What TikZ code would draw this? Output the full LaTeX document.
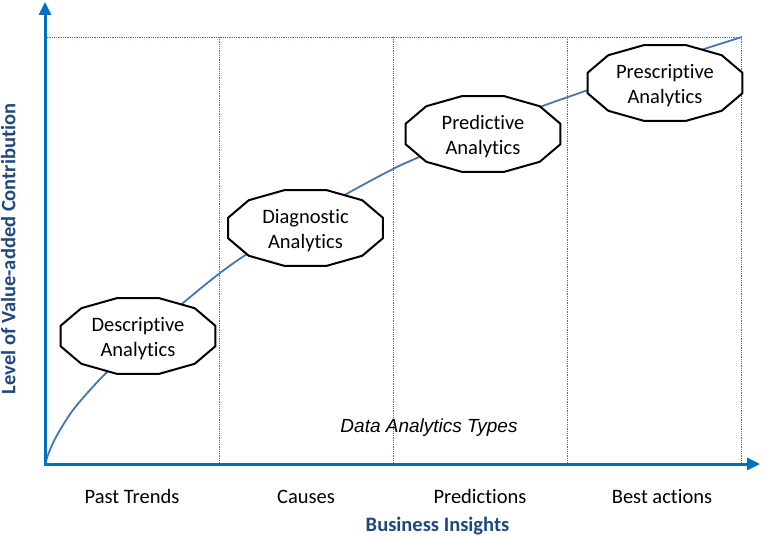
\documentclass[tikz,border=0pt]{standalone}
\usepackage{fontspec}
\setmainfont{Carlito}[Ligatures=NoCommon]
\newfontfamily\arialfont{Liberation Sans}
\usetikzlibrary{arrows.meta,calc}
\definecolor{axisblue}{RGB}{0,112,192}
\definecolor{curveblue}{RGB}{70,118,176}
\definecolor{gridblue}{RGB}{79,109,160}
\definecolor{titleblue}{RGB}{31,73,125}
\tikzset{
  axisline/.style={draw=axisblue,line width=3pt,-{Triangle[length=13pt,width=12pt]}},
  gridline/.style={draw=gridblue,line width=0.8pt,densely dotted},
  curveline/.style={draw=curveblue,line width=1.8pt},
  polytext/.style={font=\fontsize{20.5}{25}\selectfont,align=center,inner sep=0pt,yshift=-3pt},
  polyline/.style={draw=black,line width=2pt,fill=white,line join=miter},
  catlabel/.style={font=\fontsize{20.5}{25}\selectfont,anchor=base},
  axistitle/.style={font=\fontsize{20.5}{25}\selectfont\bfseries,text=titleblue,anchor=base},
  typelabel/.style={font=\arialfont\itshape\fontsize{19}{23}\selectfont,anchor=base},
}
\newcommand\dodecagon[1]{%
  \path[polyline,shift={(#1)}] (15:80.2pt and 39.3pt) -- (45:80.2pt and 39.3pt)
    -- (75:80.2pt and 39.3pt) -- (105:80.2pt and 39.3pt) -- (135:80.2pt and 39.3pt)
    -- (165:80.2pt and 39.3pt) -- (195:80.2pt and 39.3pt) -- (225:80.2pt and 39.3pt)
    -- (255:80.2pt and 39.3pt) -- (285:80.2pt and 39.3pt) -- (315:80.2pt and 39.3pt)
    -- (345:80.2pt and 39.3pt) -- cycle;}
\begin{document}
\begin{tikzpicture}[x=1pt,y=-1pt]
\useasboundingbox (0,0) rectangle (768,537);
% grid
\coordinate (O) at (45,464);
\coordinate (TL) at (45,37);
\coordinate (TR) at (741,37);
\coordinate (v1t) at (219,37); \coordinate (v1b) at (219,464);
\coordinate (v2t) at (393,37); \coordinate (v2b) at (393,464);
\coordinate (v3t) at (567,37); \coordinate (v3b) at (567,464);
\coordinate (v4t) at (741,37); \coordinate (v4b) at (741,464);
\draw[gridline] (TL) -- (TR);
\draw[gridline] (v1t) -- (v1b);
\draw[gridline] (v2t) -- (v2b);
\draw[gridline] (v3t) -- (v3b);
\draw[gridline] (v4t) -- (v4b);
% curve
\draw[curveline] plot[smooth,tension=0.55] coordinates {(45,464) (48,455) (53,443) (60,430) (73,410) (90,390) (107,372) (140,340) (183,303) (220,273) (250,252) (300,221) (350,192) (393,169) (417,158) (480,131) (540,107) (588,90) (645,69) (698,51) (742,37)};
% axes
\coordinate (ybase) at (45,465.5);
\coordinate (ytip) at (45,2);
\coordinate (xbase) at (43.5,464);
\coordinate (xtip) at (760,464);
\draw[axisline] (ybase) -- (ytip);
\draw[axisline] (xbase) -- (xtip);
% shapes
\coordinate (descC) at (138,336);
\coordinate (diagC) at (305.5,228);
\coordinate (predC) at (483,134);
\coordinate (presC) at (665,83);
\dodecagon{descC}
\dodecagon{diagC}
\dodecagon{predC}
\dodecagon{presC}
\node[polytext] (desc) at (descC) {Descriptive\\Analytics};
\node[polytext] (diag) at (diagC) {Diagnostic\\Analytics};
\node[polytext] (pred) at (predC) {Predictive\\Analytics};
\node[polytext] (pres) at (presC) {Prescriptive\\Analytics};
% labels
\node[typelabel] (types) at (429,432) {Data Analytics Types};
\node[catlabel] (past) at (132,503) {Past Trends};
\node[catlabel] (causes) at (306,503) {Causes};
\node[catlabel] (predictions) at (480,503) {Predictions};
\node[catlabel] (best) at (662,503) {Best actions};
\node[axistitle] (xtitle) at (437.5,531) {Business Insights};
\node[axistitle,rotate=90] (ytitle) at (15.5,249) {Level of Value-added Contribution};
\end{tikzpicture}
\end{document}
